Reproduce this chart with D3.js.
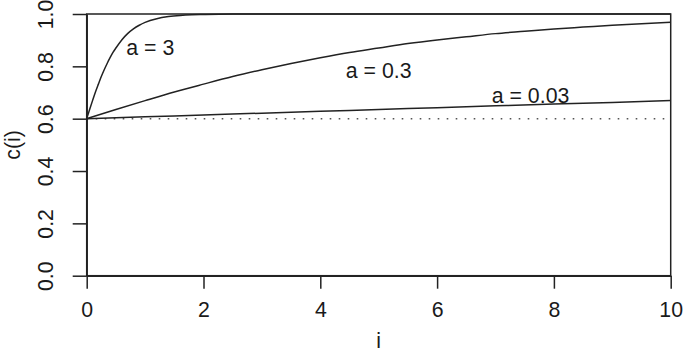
<!DOCTYPE html>
<html>
<head>
<meta charset="utf-8">
<script src="https://cdn.jsdelivr.net/npm/d3@7"></script>
<style>
  body { margin: 0; background: #fff; }
  svg text { font-family: "Liberation Sans", Arial, sans-serif; fill: #1a1a1a; }
</style>
</head>
<body>
<div class="chart"></div>
<script>
// values
let iA3 = [0, 0.05, 0.1, 0.15, 0.2, 0.25, 0.3, 0.35, 0.4, 0.45, 0.5, 0.6, 0.7, 0.8, 0.9, 1.0, 1.2, 1.4, 1.6, 1.8, 2.0, 2.5, 3, 4, 5, 6, 7, 8, 9, 10];
let cA3 = [0.600, 0.635, 0.669, 0.702, 0.732, 0.761, 0.787, 0.811, 0.833, 0.853, 0.870, 0.901, 0.925, 0.943, 0.957, 0.968, 0.982, 0.990, 0.9945, 0.997, 0.998, 0.9996, 1.0, 1.0, 1.0, 1.0, 1.0, 1.0, 1.0, 1.0];

let iA03 = [0, 0.5, 1, 1.5, 2, 2.5, 3, 3.5, 4, 4.5, 5, 5.5, 6, 6.5, 7, 7.5, 8, 8.5, 9, 9.5, 10];
let cA03 = [0.600, 0.635, 0.669, 0.702, 0.732, 0.761, 0.787, 0.811, 0.833, 0.853, 0.870, 0.887, 0.901, 0.913, 0.925, 0.934, 0.943, 0.950, 0.957, 0.963, 0.968];

let iA003 = [0, 1, 2, 3, 4, 5, 6, 7, 8, 9, 10];
let cA003 = [0.600, 0.607, 0.614, 0.621, 0.628, 0.635, 0.642, 0.649, 0.656, 0.662, 0.669];

let iBase = [0, 10];
let cBase = [0.6, 0.6];

let labels = ["a = 3", "a = 0.3", "a = 0.03"];
let labelI = [1.09, 5.0, 7.6];
let labelC = [0.874, 0.786, 0.69];

let xTicks = [0, 2, 4, 6, 8, 10];
let yTicks = [0, 0.2, 0.4, 0.6, 0.8, 1.0];

let width = 685,
  height = 353,
  box = {left: 86.7, right: 670.7, top: 14, bottom: 275.7},
  fontSize = 21.3,
  ink = "#222";

let svg = d3.select(".chart")
  .append("svg")
  .attr("width", width)
  .attr("height", height);

let xScale = d3.scaleLinear().domain([0, 10]).range([box.left, box.right]);
let yScale = d3.scaleLinear().domain([0, 1]).range([box.bottom, box.top]);

let line = d3.line()
  .x(d => xScale(d[0]))
  .y(d => yScale(d[1]))
  .curve(d3.curveMonotoneX);

// dotted reference line at the start value
svg.append("path")
  .attr("d", line(d3.zip(iBase, cBase)))
  .attr("fill", "none")
  .attr("stroke", "#555")
  .attr("stroke-width", 1.5)
  .attr("stroke-dasharray", "1.6,7.4");

// the three curves
[[iA3, cA3], [iA03, cA03], [iA003, cA003]].forEach(s => {
  svg.append("path")
    .attr("d", line(d3.zip(s[0], s[1])))
    .attr("fill", "none")
    .attr("stroke", ink)
    .attr("stroke-width", 1.5);
});

// box
svg.append("rect")
  .attr("x", box.left)
  .attr("y", box.top)
  .attr("width", box.right - box.left)
  .attr("height", box.bottom - box.top)
  .attr("fill", "none")
  .attr("stroke", ink)
  .attr("stroke-width", 1.5);

// X axis
let xAxis = svg.append("g")
  .attr("transform", `translate(0,${box.bottom})`)
  .call(d3.axisBottom(xScale).tickValues(xTicks).tickFormat(d3.format("d")).tickSizeInner(13).tickSizeOuter(0).tickPadding(13));
xAxis.selectAll("path, line").attr("stroke", ink).attr("stroke-width", 1.5);
xAxis.selectAll("text").attr("font-size", fontSize).attr("fill", null).attr("dy", "0.71em");
xAxis.attr("font-family", null).attr("font-size", null);

// Y axis, labels turned like R does
let yAxis = svg.append("g")
  .attr("transform", `translate(${box.left},0)`)
  .call(d3.axisLeft(yScale).tickValues(yTicks).tickFormat(d3.format(".1f")).tickSizeInner(14).tickSizeOuter(0));
yAxis.selectAll("path, line").attr("stroke", ink).attr("stroke-width", 1.5);
yAxis.selectAll("text")
  .attr("font-size", fontSize)
  .attr("fill", null)
  .attr("text-anchor", "middle")
  .attr("transform", "rotate(-90)")
  .attr("x", 0)
  .attr("y", -(box.left - 53))
  .attr("dy", 0);
yAxis.attr("font-family", null).attr("font-size", null);

// curve labels
labels.forEach((t, k) => {
  svg.append("text")
    .attr("x", xScale(labelI[k]))
    .attr("y", yScale(labelC[k]))
    .attr("dy", "0.36em")
    .attr("text-anchor", "middle")
    .attr("font-size", fontSize)
    .text(t);
});

// axis titles
svg.append("text")
  .attr("x", (box.left + box.right) / 2)
  .attr("y", 348)
  .attr("text-anchor", "middle")
  .attr("font-size", fontSize)
  .text("i");

svg.append("text")
  .attr("transform", `translate(20,${(box.top + box.bottom) / 2})rotate(-90)`)
  .attr("text-anchor", "middle")
  .attr("font-size", fontSize)
  .text("c(i)");
</script>
</body>
</html>
